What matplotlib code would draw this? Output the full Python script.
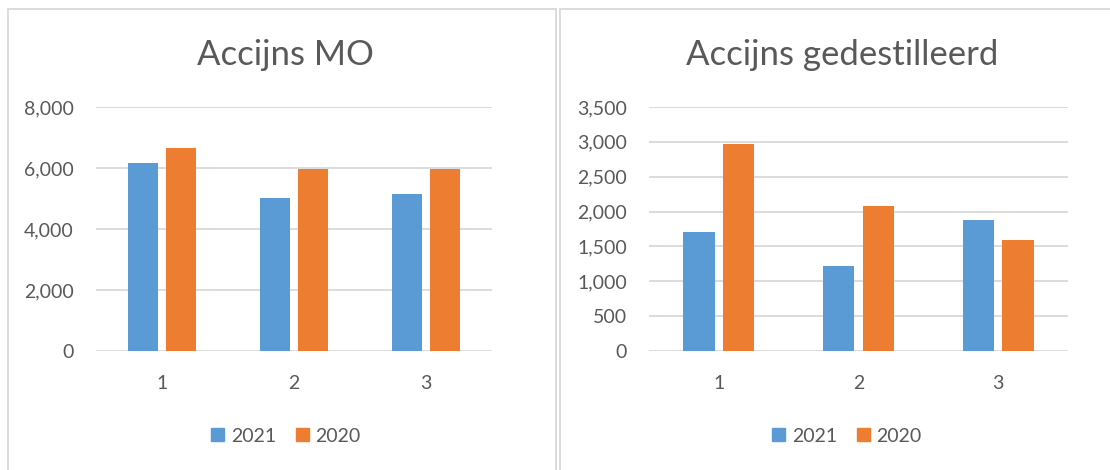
import numpy as np
import matplotlib
matplotlib.use("Agg")
import matplotlib.pyplot as plt
from matplotlib.patches import Rectangle, Patch
from matplotlib.ticker import FuncFormatter

categories = ["1", "2", "3"]
series = ["2021", "2020"]
mo_2021 = [6150, 5030, 5140]
mo_2020 = [6670, 5960, 5960]
ged_2021 = [1700, 1220, 1880]
ged_2020 = [2970, 2080, 1590]

BLUE = "#5B9BD5"
ORANGE = "#ED7D31"
GRID = "#D9D9D9"
TEXT = "#595959"

plt.rcParams["font.family"] = ["Lato", "DejaVu Sans"]

W, H = 1110, 470
fig = plt.figure(figsize=(W / 100, H / 100), dpi=100)


def px_axes(x0, x1, ytop, ybot):
    return fig.add_axes([x0 / W, (H - ybot) / H, (x1 - x0) / W, (ybot - ytop) / H])


def draw_panel(ax, v1, v2, ymax, step, bw, gap):
    x = np.arange(len(categories))
    off = (bw + gap) / 2
    ax.bar(x - off, v1, bw, color=BLUE, zorder=3)
    ax.bar(x + off, v2, bw, color=ORANGE, zorder=3)
    ax.set_xlim(-0.5, len(categories) - 0.5)
    ax.set_ylim(0, ymax)
    ax.set_yticks(np.arange(0, ymax + 1, step))
    ax.yaxis.set_major_formatter(FuncFormatter(lambda v, p: f"{v:,.0f}"))
    ax.set_xticks(x)
    ax.set_xticklabels(categories)
    ax.grid(axis="y", color=GRID, linewidth=1.3, zorder=0)
    for s in ax.spines.values():
        s.set_visible(False)
    ax.tick_params(axis="y", length=0, pad=16, labelsize=14, labelcolor=TEXT)
    ax.tick_params(axis="x", length=0, pad=17, labelsize=14, labelcolor=TEXT)


ax1 = px_axes(96, 492, 107, 351)
draw_panel(ax1, mo_2021, mo_2020, 8000, 2000, 0.22, 0.068)
ax2 = px_axes(649, 1068, 107, 351)
draw_panel(ax2, ged_2021, ged_2020, 3500, 500, 0.222, 0.062)

# panel frames
for x0, x1 in [(7.5, 555.7), (559.7, 1125)]:
    fig.patches.append(Rectangle((x0 / W, -0.1), (x1 - x0) / W, (H - 8.5) / H + 0.1,
                                 transform=fig.transFigure, fill=False,
                                 edgecolor=GRID, linewidth=1.3))

fig.text(285.5 / W, (H - 65) / H, "Accijns MO", ha="center", va="baseline",
         fontsize=25, color=TEXT)
fig.text(842 / W, (H - 65) / H, "Accijns gedestilleerd", ha="center", va="baseline",
         fontsize=25, color=TEXT)

handles = [Patch(color=BLUE, label=series[0]), Patch(color=ORANGE, label=series[1])]
for cx in (286, 847):
    fig.legend(handles=handles, loc="center", bbox_to_anchor=(cx / W, (H - 436) / H),
               ncol=2, frameon=False, fontsize=14, labelcolor=TEXT,
               handlelength=0.67, handleheight=0.67, handletextpad=0.35,
               columnspacing=1.0)

fig.savefig("out.png", dpi=100)
